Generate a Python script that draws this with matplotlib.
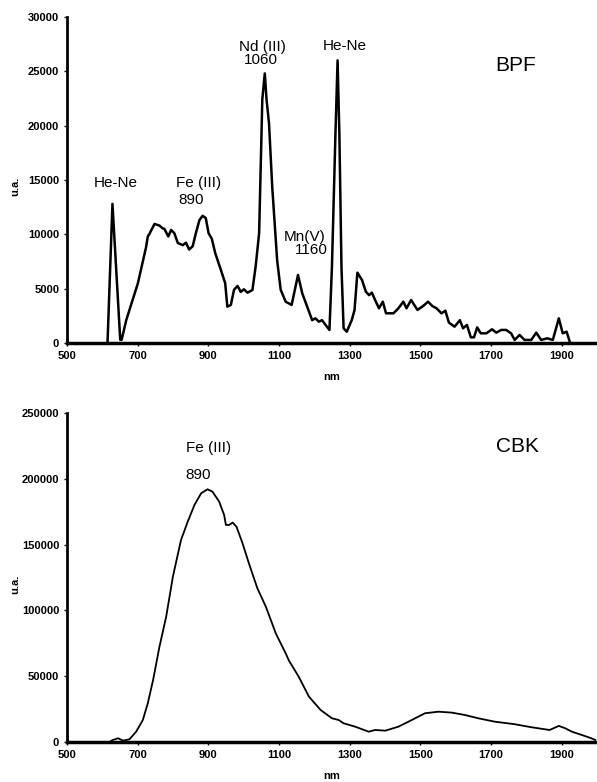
import matplotlib
matplotlib.use("Agg")
import matplotlib.pyplot as plt

plt.rcParams['font.family'] = ['Liberation Sans', 'DejaVu Sans']

# BPF spectrum (nm, u.a.)
bpf_nm = [615, 629, 651, 655, 668, 701, 724, 729, 733, 748, 762, 771, 776, 787, 795,
          804, 814, 828, 837, 846, 856, 865, 875, 884, 893, 901, 910, 920, 936, 948,
          954, 964, 973, 983, 992, 1001, 1011, 1025, 1034, 1044, 1053, 1060, 1065,
          1072, 1081, 1095, 1105, 1119, 1136, 1154, 1166, 1180, 1194, 1203, 1213,
          1222, 1232, 1243, 1250, 1260, 1266, 1271, 1277, 1283, 1292, 1306, 1314,
          1322, 1335, 1346, 1355, 1363, 1372, 1383, 1394, 1403, 1424, 1438, 1452,
          1461, 1474, 1492, 1508, 1522, 1534, 1546, 1560, 1571, 1581, 1597, 1612,
          1621, 1632, 1643, 1652, 1661, 1671, 1687, 1703, 1715, 1729, 1743, 1757,
          1767, 1781, 1795, 1814, 1828, 1842, 1859, 1875, 1892, 1903, 1914, 1924]
bpf_val = [0, 12800, 300, 300, 2100, 5500, 8800, 9800, 10000, 10950, 10800, 10550,
           10500, 9800, 10400, 10100, 9200, 9000, 9230, 8600, 8900, 10100, 11300,
           11700, 11500, 10100, 9600, 8250, 6700, 5500, 3340, 3500, 4900, 5250, 4700,
           4940, 4630, 4870, 7000, 10100, 22400, 24800, 22400, 20200, 14400, 7600,
           4900, 3800, 3500, 6260, 4570, 3340, 2100, 2270, 1960, 2100, 1660, 1200,
           7000, 19300, 26000, 19300, 7000, 1350, 1040, 2100, 3040, 6470, 5800, 4720,
           4400, 4630, 3960, 3190, 3800, 2730, 2730, 3190, 3800, 3190, 3960, 3040,
           3400, 3800, 3400, 3190, 2730, 2970, 1870, 1500, 2100, 1350, 1660, 520, 520,
           1440, 890, 890, 1260, 950, 1200, 1200, 890, 280, 740, 280, 280, 950, 280,
           430, 280, 2270, 890, 1040, 0]

# CBK spectrum (nm, u.a.)
cbk_nm = [550, 620, 630, 645, 659, 677, 696, 715, 729, 744, 762, 781, 800, 823, 842,
          861, 880, 898, 912, 931, 945, 950, 959, 969, 980, 997, 1015, 1039, 1063,
          1091, 1119, 1128, 1156, 1185, 1218, 1250, 1269, 1283, 1316, 1354, 1372,
          1401, 1438, 1476, 1513, 1551, 1589, 1626, 1664, 1711, 1767, 1814, 1866,
          1892, 1910, 1929, 1957, 1984, 1995]
cbk_val = [0, 0, 1500, 2800, 1000, 2000, 7800, 16700, 29400, 47100, 72400, 95200,
           125600, 153500, 167400, 180100, 189000, 192000, 190200, 182600, 172500,
           164900, 164900, 166700, 163600, 151000, 135800, 116800, 102800, 82600,
           67400, 62000, 49600, 34400, 24300, 18000, 16700, 14200, 11600, 7800, 9100,
           8600, 11600, 16700, 21800, 23000, 22300, 20500, 18000, 15400, 13500, 11200,
           9100, 12200, 10400, 7800, 5300, 2800, 1500]

x_ticks = [500, 700, 900, 1100, 1300, 1500, 1700, 1900]

fig = plt.figure(figsize=(5.97, 7.82), dpi=100)
ax1 = fig.add_axes([0.112, 0.5614, 0.888, 0.417])
ax2 = fig.add_axes([0.112, 0.0512, 0.888, 0.4207])


def style(ax, ymax, ystep):
    ax.set_xlim(500, 2000)
    ax.set_ylim(0, ymax)
    ax.set_xticks(x_ticks)
    ax.set_yticks(range(0, ymax + 1, ystep))
    for s in ['top', 'right']:
        ax.spines[s].set_visible(False)
    ax.spines['left'].set_linewidth(2)
    ax.spines['bottom'].set_linewidth(2.5)
    ax.tick_params(length=2.5, width=1, labelsize=8, pad=3)
    for lab in ax.get_xticklabels() + ax.get_yticklabels():
        lab.set_fontweight('bold')
    ax.set_xlabel('nm', fontsize=8, fontweight='bold', labelpad=8)
    ax.set_ylabel('u.a.', fontsize=8, fontweight='bold')
    ax.yaxis.set_label_coords(-0.088, 0.48)


ax1.plot(bpf_nm, bpf_val, color='black', lw=1.8)
style(ax1, 30000, 5000)
fs = 11
ax1.text(639, 14720, 'He-Ne', fontsize=fs, ha='center', va='center')
ax1.text(873, 14720, 'Fe (III)', fontsize=fs, ha='center', va='center')
ax1.text(853, 13160, '890', fontsize=fs, ha='center', va='center')
ax1.text(1054, 27240, 'Nd (III)', fontsize=fs, ha='center', va='center')
ax1.text(1049, 26040, '1060', fontsize=fs, ha='center', va='center')
ax1.text(1173, 9750, 'Mn(V)', fontsize=fs, ha='center', va='center')
ax1.text(1193, 8560, '1160', fontsize=fs, ha='center', va='center')
ax1.text(1286, 27330, 'He-Ne', fontsize=fs, ha='center', va='center')
ax1.text(1770, 25490, 'BPF', fontsize=15, ha='center', va='center')

ax2.plot(cbk_nm, cbk_val, color='black', lw=1.3)
style(ax2, 250000, 50000)
ax2.text(902, 223400, 'Fe (III)', fontsize=fs, ha='center', va='center')
ax2.text(870, 202900, '890', fontsize=fs, ha='center', va='center')
ax2.text(1775, 224200, 'CBK', fontsize=15, ha='center', va='center')

fig.savefig('out.png', dpi=100)
